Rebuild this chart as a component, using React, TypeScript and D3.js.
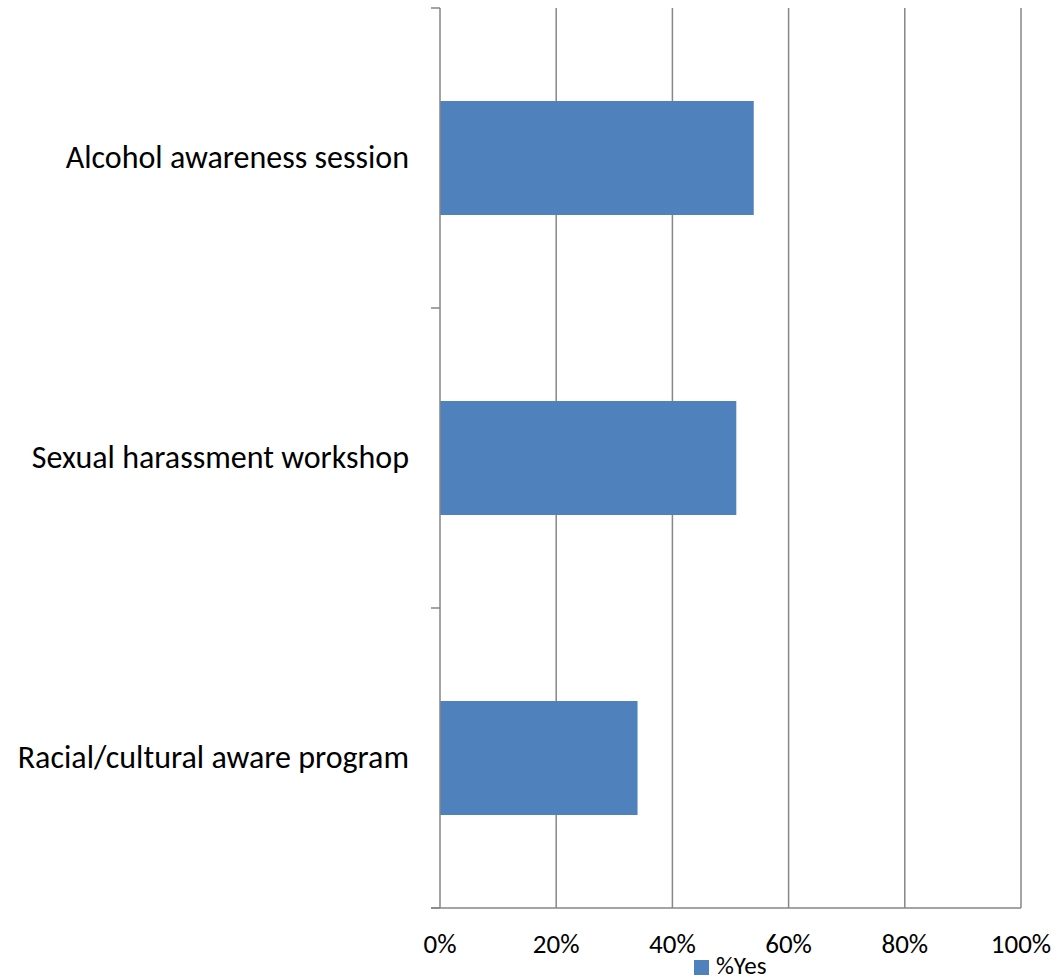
import React from "react";
import * as d3 from "d3";

const categories = [
  "Alcohol awareness session",
  "Sexual harassment workshop",
  "Racial/cultural aware program",
];
const values = [0.54, 0.51, 0.34];
const xTicks = [0, 0.2, 0.4, 0.6, 0.8, 1.0];
const seriesName = "%Yes";

const W = 1061;
const H = 980;
const left = 440;
const right = 1021;
const top = 8;
const bottom = 908;
const font = "Carlito, Calibri, 'Open Sans', sans-serif";
const gray = "#868686";
const barColor = "#4F81BD";

export default function App() {
  const x = d3.scaleLinear().domain([0, 1]).range([left, right]);
  const y = d3
    .scaleBand<string>()
    .domain(categories)
    .range([top, bottom])
    .paddingInner(0.62)
    .paddingOuter(0.31);
  const step = (bottom - top) / categories.length;
  const catTicks = d3.range(categories.length + 1).map((i) => top + i * step);
  const fmt = d3.format(".0%");

  return (
    <svg
      width={W}
      height={H}
      style={{ position: "absolute", left: 0, top: 0, background: "#fff" }}
    >
      {xTicks.slice(1).map((t) => (
        <line
          key={"g" + t}
          x1={x(t)}
          x2={x(t)}
          y1={top}
          y2={bottom}
          stroke={gray}
          strokeWidth={1.5}
        />
      ))}
      {categories.map((c, i) => (
        <rect
          key={c}
          x={x(0)}
          y={y(c)}
          width={x(values[i]) - x(0)}
          height={y.bandwidth()}
          fill={barColor}
        />
      ))}
      <line x1={left} x2={left} y1={top} y2={bottom} stroke={gray} strokeWidth={1.5} />
      {catTicks.map((t, i) => (
        <line key={"ct" + i} x1={left - 9} x2={left} y1={t} y2={t} stroke={gray} strokeWidth={1.5} />
      ))}
      <line x1={left - 9} x2={right} y1={bottom} y2={bottom} stroke={gray} strokeWidth={1.5} />
      {categories.map((c) => (
        <text
          key={"l" + c}
          x={409}
          y={(y(c) as number) + y.bandwidth() / 2 + 10}
          textAnchor="end"
          fontFamily={font}
          fontSize={32}
          fill="#000"
        >
          {c}
        </text>
      ))}
      {xTicks.map((t) => (
        <text
          key={"xt" + t}
          x={x(t)}
          y={953}
          textAnchor="middle"
          fontFamily={font}
          fontSize={27}
          fill="#000"
        >
          {fmt(t)}
        </text>
      ))}
      <rect x={694} y={960} width={15} height={15} fill={barColor} />
      <text x={716} y={974} fontFamily={font} fontSize={25} fill="#000">
        {seriesName}
      </text>
    </svg>
  );
}
